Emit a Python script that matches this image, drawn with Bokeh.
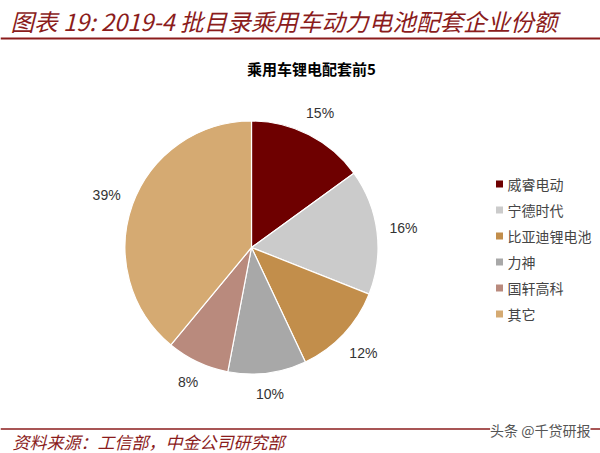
import math
from bokeh.plotting import figure
from bokeh.models import Range1d, ColumnDataSource
from bokeh.core.properties import value
from bokeh.embed import file_html
from bokeh.resources import INLINE

title = "图表 19: 2019-4 批目录乘用车动力电池配套企业份额"
subtitle = "乘用车锂电配套前5"
source_note = "资料来源：工信部，中金公司研究部"
watermark = "头条 @千贷研报"
categories = ["威睿电动", "宁德时代", "比亚迪锂电池", "力神", "国轩高科", "其它"]
shares = [15, 16, 12, 10, 8, 39]
colors = ["#6E0000", "#CBCBCB", "#C28E4B", "#A8A8A8", "#B98A7D", "#D5AA72"]

W, H = 600, 453
def X(px):
    return px
def Y(py):
    return H - py

p = figure(width=W, height=H, x_range=Range1d(0, W), y_range=Range1d(0, H),
           output_backend="svg", toolbar_location=None, min_border=0)
p.axis.visible = False
p.grid.visible = False
p.outline_line_color = None
p.background_fill_color = "white"

cx, cy, r = X(251), Y(247), 126.5
total = float(sum(shares))
starts, ends, mids = [], [], []
cum = 0.0
for s in shares:
    a0 = math.pi / 2 - 2 * math.pi * cum / total
    cum += s
    a1 = math.pi / 2 - 2 * math.pi * cum / total
    starts.append(a1)
    ends.append(a0)
    mids.append((a0 + a1) / 2)

src = ColumnDataSource(dict(start=starts, end=ends, color=colors))
p.wedge(x=cx, y=cy, radius=r, start_angle="start", end_angle="end",
        fill_color="color", line_color="white", line_width=1.2, source=src)

# outside-end labels: label box kept a fixed gap outside the rim
labels = [f"{s}%" for s in shares]
gap, box_h = 12, 14
lx, ly = [], []
for m, t in zip(mids, labels):
    box_w = 9.3 * len(t)
    d = r + gap + (box_w / 2) * abs(math.cos(m)) + (box_h / 2) * abs(math.sin(m))
    lx.append(cx + d * math.cos(m))
    ly.append(cy + d * math.sin(m))
p.text(x=lx, y=ly, text=labels, text_align="center", text_baseline="middle",
       text_font=value("Liberation Sans"), text_font_size="14px", text_color="#333333")

# legend
leg_y = [Y(183.5 + 26 * i) for i in range(len(categories))]
p.rect(x=[X(499)] * len(categories), y=leg_y, width=7, height=7,
       fill_color=colors, line_color=None)
p.text(x=[X(507)] * len(categories), y=leg_y, text=categories, text_align="left",
       text_baseline="middle", text_font=value("Noto Sans CJK SC"),
       text_font_size="14px", text_color="#454545")

# title
p.text(x=[X(10)], y=[Y(20)], text=[title], text_align="left", text_baseline="middle",
       text_font=value("Noto Sans CJK SC"), text_font_size="23.6px",
       text_font_style="italic", text_color="#8B1C1C")
p.line(x=[0, W], y=[Y(38), Y(38)], line_color="#8B1C1C", line_width=2)

p.text(x=[X(311)], y=[Y(68)], text=[subtitle], text_align="center", text_baseline="middle",
       text_font=value("Noto Sans CJK SC"), text_font_size="15px",
       text_font_style="bold", text_color="#000000")

# footer
p.line(x=[0, W], y=[Y(428.5), Y(428.5)], line_color="#8B1C1C", line_width=1.5)
p.text(x=[X(12)], y=[Y(441)], text=[source_note], text_align="left", text_baseline="middle",
       text_font=value("Noto Sans CJK SC"), text_font_size="17px",
       text_font_style="italic", text_color="#8B1C1C")
p.text(x=[X(590)], y=[Y(429)], text=[watermark], text_align="right", text_baseline="middle",
       text_font=value("Noto Sans CJK SC"), text_font_size="14px",
       text_color="#555555", background_fill_color="white")

open("out.html", "w").write(file_html(p, INLINE))
